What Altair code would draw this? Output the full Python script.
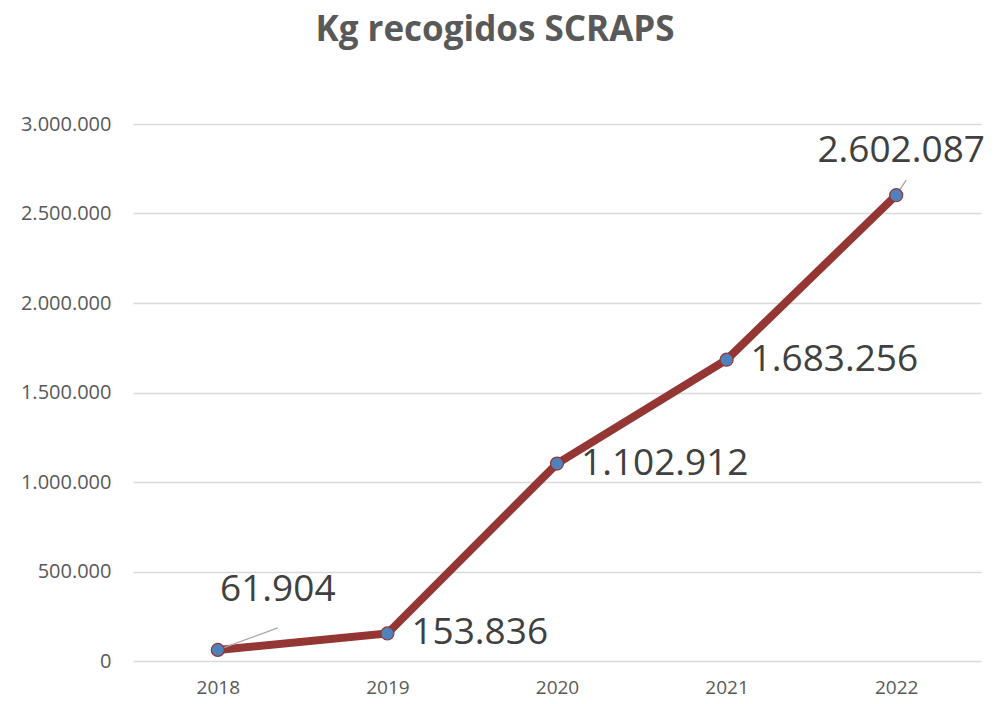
import altair as alt
import pandas as pd

years = ["2018", "2019", "2020", "2021", "2022"]
kg = [61904, 153836, 1102912, 1683256, 2602087]
y_ticks = [0, 500000, 1000000, 1500000, 2000000, 2500000, 3000000]

df = pd.DataFrame({"year": years, "kg": kg})

FONT = "Open Sans"
fmt = "replace(format(datum.kg, ','), regexp(',', 'g'), '.')"

base = alt.Chart(df).encode(
    x=alt.X("year:N", title=None, sort=years,
            scale=alt.Scale(type="point", padding=0.5),
            axis=alt.Axis(labelAngle=0, labelFont=FONT, labelFontSize=19,
                          labelColor="#595959", ticks=False, domain=False,
                          labelPadding=17, grid=False)),
    y=alt.Y("kg:Q", title=None,
            scale=alt.Scale(domain=[0, 3000000], nice=False, zero=True),
            axis=alt.Axis(values=y_ticks, labelFont=FONT, labelFontSize=20,
                          labelColor="#595959", ticks=False, domain=False,
                          labelPadding=22, gridColor="#d9d9d9", gridWidth=1.3,
                          labelExpr="replace(format(datum.value, ','), regexp(',', 'g'), '.')")),
)

line = base.mark_line(color="#943634", strokeWidth=8)
points = base.mark_point(filled=True, size=170, color="#4F81BD", stroke="#943634",
                         strokeWidth=1.2, opacity=1)

leader1 = base.mark_rule(color="#a6a6a6", strokeWidth=1.3, x2Offset=60, y2Offset=-22).encode(
    x2=alt.X2("year:N"), y2=alt.Y2("kg:Q")
).transform_filter("datum.year == '2018'")
leader2 = base.mark_rule(color="#a6a6a6", strokeWidth=1.3, x2Offset=10, y2Offset=-15).encode(
    x2=alt.X2("year:N"), y2=alt.Y2("kg:Q")
).transform_filter("datum.year == '2022'")

def lab(filt, **kw):
    return base.mark_text(font=FONT, fontSize=37, color="#404040", baseline="middle", **kw).encode(
        text="label:N"
    ).transform_calculate(label=fmt).transform_filter(filt)

lab1 = lab("datum.year == '2018'", align="center", dx=60, dy=-60)
lab2 = lab("datum.year != '2018' && datum.year != '2022'", align="left", dx=24, dy=0)
lab3 = lab("datum.year == '2022'", align="center", dx=5, dy=-44)

chart = alt.layer(line, leader1, leader2, points, lab1, lab2, lab3).properties(
    width=848, height=537,
    autosize=alt.AutoSizeParams(type="none"),
    padding={"left": 125, "top": 116, "right": 5, "bottom": 42},
    title=alt.TitleParams("Kg recogidos SCRAPS", font=FONT, fontSize=35, fontWeight="bold",
                          color="#595959", anchor="middle", dx=-62, offset=66),
).configure_view(stroke=None)

chart.save("out.html", embed_options={"renderer": "svg", "actions": False})
